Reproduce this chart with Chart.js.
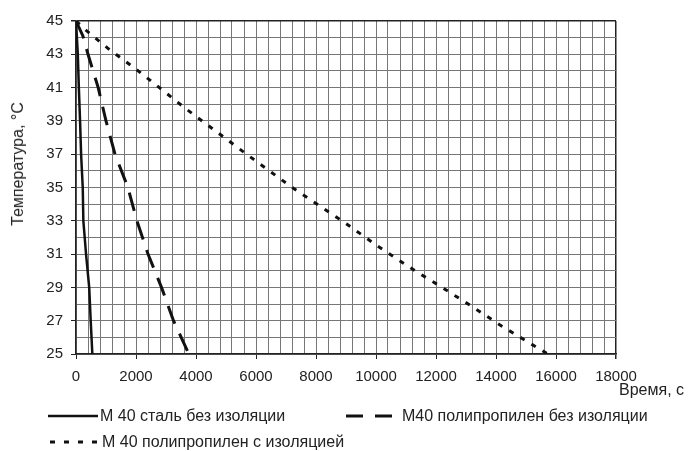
<!DOCTYPE html>
<html>
<head>
<meta charset="utf-8">
<script src="https://cdn.jsdelivr.net/npm/chart.js@4"></script>
<style>
  body { margin: 0; background: #fff; }
  #wrap { position: relative; width: 688px; height: 451px; font-family: "Liberation Sans", Arial, sans-serif; color: #222; }
  canvas { position: absolute; left: 0; top: 0; }
  .txt { position: absolute; font-size: 16px; white-space: nowrap; line-height: 18px; }
  .key { position: absolute; }
  #yTitle { position: absolute; left: 18px; top: 164px; font-size: 16px; line-height: 18px; white-space: nowrap;
            transform: translate(-50%, -50%) rotate(-90deg); }
</style>
</head>
<body>
<div id="wrap">
  <canvas id="myChart" width="688" height="451"></canvas>
  <div id="yTitle"></div>
  <div class="txt" id="xTitle" style="left:619px; top:381px;"></div>

  <svg class="key" style="left:48px; top:408px;" width="50" height="16"><line x1="0" y1="8" x2="50" y2="8" stroke="#111" stroke-width="2.5"/></svg>
  <div class="txt" id="lab0" style="left:100px; top:407px;"></div>

  <svg class="key" style="left:346px; top:408px;" width="46" height="16"><line x1="0" y1="8" x2="46" y2="8" stroke="#111" stroke-width="3" stroke-dasharray="17 12"/></svg>
  <div class="txt" id="lab1" style="left:402px; top:407px;"></div>

  <svg class="key" style="left:50px; top:434px;" width="50" height="16"><line x1="0" y1="8" x2="50" y2="8" stroke="#111" stroke-width="3" stroke-dasharray="5 9"/></svg>
  <div class="txt" id="lab2" style="left:102px; top:433px;"></div>
</div>
<script>
// серии: время (с) и температура (°C)
const seriesNames = ['М 40 сталь без изоляции', 'М40 полипропилен без изоляции', 'М 40 полипропилен с изоляцией'];
const xTitle = 'Время, с';
const yTitle = 'Температура, °С';

const steelTime = [0, 60, 95, 135, 170, 225, 245, 335, 440, 490, 545];
const steelTemp = [45, 43, 41, 39, 37, 35, 33, 31, 29, 27, 25];

const ppTime = [0, 230, 400, 740, 1000, 1300, 1730, 2030, 2400, 2850, 3250, 3760];
const ppTemp = [45, 44.1, 43, 41, 39, 37, 35, 33, 31, 29, 27, 25];

const ppInsTime = [0, 400, 1133, 2033, 2800, 3633, 5633, 7244, 8078, 8911, 10078, 11300, 12078, 13300, 14133, 15689];
const ppInsTemp = [45, 44.34, 43.26, 42.06, 40.97, 39.77, 37.07, 34.95, 33.95, 32.95, 31.45, 30.0, 29.14, 27.74, 26.74, 25.04];

const xMin = 0, xMax = 18000, xGridStep = 400, xLabelStep = 2000;
const yMin = 25, yMax = 45, yGridStep = 1, yLabelStep = 2;

const toPoints = (xs, ys) => xs.map((x, i) => ({ x: x, y: ys[i] }));

seriesNames.forEach((name, i) => {
  document.getElementById('lab' + i).textContent = name;
});
document.getElementById('xTitle').textContent = xTitle;
document.getElementById('yTitle').textContent = yTitle;

const fontFamily = '"Liberation Sans", Arial, sans-serif';
const axisColor = '#222';
const gridColor = '#777';

const ctx = document.getElementById('myChart').getContext('2d');
const chart = new Chart(ctx, {
  type: 'line',
  data: {
    datasets: [
      {
        label: seriesNames[0],
        data: toPoints(steelTime, steelTemp),
        borderColor: '#111',
        borderWidth: 2.5
      }, {
        label: seriesNames[1],
        data: toPoints(ppTime, ppTemp),
        borderColor: '#111',
        borderWidth: 3,
        borderDash: [19, 11]
      }, {
        label: seriesNames[2],
        data: toPoints(ppInsTime, ppInsTemp),
        borderColor: '#111',
        borderWidth: 3,
        borderDash: [5, 8]
      }
    ]
  },
  options: {
    responsive: false,
    animation: false,
    elements: {
      point: { radius: 0 },
      line: { tension: 0, fill: false }
    },
    layout: {
      padding: { left: 0, right: 72, top: 21, bottom: 0 }
    },
    plugins: {
      legend: { display: false },
      tooltip: { enabled: false }
    },
    scales: {
      x: {
        type: 'linear',
        min: xMin,
        max: xMax,
        ticks: {
          stepSize: xGridStep,
          autoSkip: false,
          maxRotation: 0,
          padding: 9,
          color: axisColor,
          font: { size: 15, family: fontFamily },
          callback: (v) => (v % xLabelStep === 0 ? String(v) : '')
        },
        grid: {
          color: (c) => (c.tick && c.tick.value === xMax ? axisColor : gridColor),
          lineWidth: (c) => (c.tick && c.tick.value === xMax ? 1.5 : 1),
          tickLength: 5,
          tickColor: (c) => (c.tick && c.tick.value % xLabelStep === 0 ? axisColor : 'rgba(0,0,0,0)')
        },
        border: { color: axisColor, width: 1.5 },
        afterFit: (s) => { s.height = 97; }
      },
      y: {
        type: 'linear',
        min: yMin,
        max: yMax,
        ticks: {
          stepSize: yGridStep,
          autoSkip: false,
          padding: 8,
          color: axisColor,
          font: { size: 15, family: fontFamily },
          callback: (v) => ((v - yMin) % yLabelStep === 0 ? String(v) : '')
        },
        grid: {
          color: (c) => (c.tick && c.tick.value === yMax ? axisColor : gridColor),
          lineWidth: (c) => (c.tick && c.tick.value === yMax ? 1.5 : 1),
          tickLength: 5,
          tickColor: (c) => (c.tick && (c.tick.value - yMin) % yLabelStep === 0 ? axisColor : 'rgba(0,0,0,0)')
        },
        border: { color: axisColor, width: 1.5 },
        afterFit: (s) => { s.width = 76; }
      }
    }
  }
});
</script>
</body>
</html>
